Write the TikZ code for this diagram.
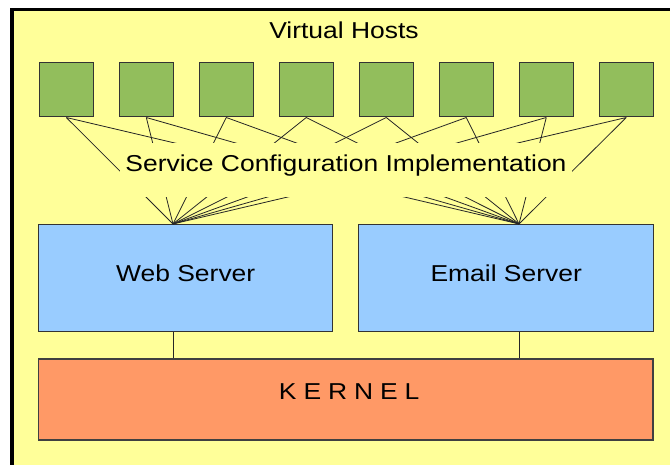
\documentclass[tikz,border=0pt]{standalone}
\usepackage{fontspec}
\setmainfont{Liberation Sans}[FakeStretch=1.15]
\usetikzlibrary{calc}

\definecolor{bgyellow}{RGB}{255,255,153}
\definecolor{hostgreen}{RGB}{146,190,92}
\definecolor{serverblue}{RGB}{153,204,255}
\definecolor{kernelorange}{RGB}{255,153,102}

\begin{document}
\begin{tikzpicture}[x=1pt,y=-1pt,
    every node/.style={font=\fontsize{23}{27}\selectfont},
    host/.style={draw=black!80,line width=1pt,fill=hostgreen,minimum size=54pt,inner sep=0pt},
    server/.style={draw=black!80,line width=1pt,fill=serverblue,minimum width=294.5pt,
      minimum height=107.5pt,inner sep=0pt,text height=12pt,text depth=6pt},
    kernelbox/.style={draw=black!75,line width=1.3pt,fill=kernelorange,minimum width=614.5pt,
      minimum height=81pt,inner sep=0pt,text height=8pt,text depth=8pt,
      font=\fontsize{23}{27}\selectfont\addfontfeature{LetterSpace=30}},
    config/.style={fill=bgyellow,minimum width=452pt,minimum height=54pt,inner sep=0pt,
      text height=23pt,text depth=19pt},
    wire/.style={draw=black!85,line width=0.8pt}]

  \clip (0,0) rectangle (670,465);
  \draw[line width=3.5pt,fill=bgyellow] (11.8,9.3) rectangle (700,500);

  \node[anchor=base] (title) at (344,39) {Virtual Hosts};

  % the eight hosts
  \foreach \i in {1,...,8}
    \node[host] (h\i) at ({66.3+80*(\i-1)},90) {};

  \node[server] (web) at (185.7,278.2) {Web Server};
  \node[server] (mail) at (506.2,278.2) {Email Server};
  \node[kernelbox] (kernel) at (345.7,399.5) {\hspace*{6.9pt}KERNEL};

  \path (web.north) ++(-12.7,0) coordinate (webfan);
  \path (mail.north) ++(12.8,0) coordinate (mailfan);

  \foreach \i in {1,...,8}
    \draw[wire] (h\i.south) -- (webfan) (h\i.south) -- (mailfan);

  \node[config] (sci) at (346,170) {Service Configuration Implementation};

  \draw[wire] (webfan |- web.south) -- (webfan |- kernel.north);
  \draw[wire] (mailfan |- mail.south) -- (mailfan |- kernel.north);
\end{tikzpicture}
\end{document}
